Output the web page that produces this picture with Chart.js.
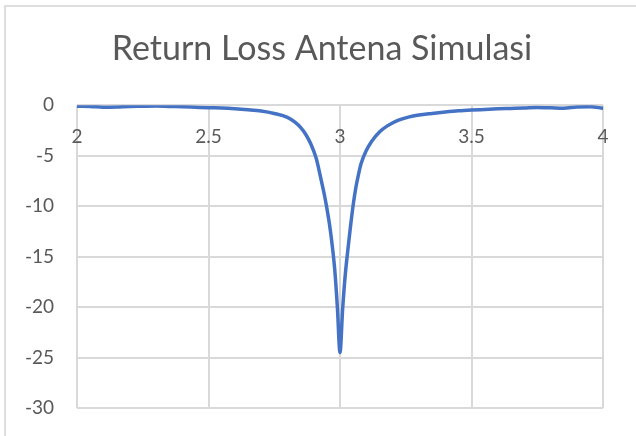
<!DOCTYPE html>
<html>
<head>
<meta charset="utf-8">
<script src="https://cdn.jsdelivr.net/npm/chart.js@4.4.1/dist/chart.umd.min.js"></script>
<style>
  html, body { margin: 0; padding: 0; background: #ffffff; }
  #wrap { position: relative; width: 636px; height: 436px; overflow: hidden; background: #fff; }
  #frame { position: absolute; left: 4px; top: 5px; width: 700px; height: 500px; border: 2px solid #dedede; box-sizing: border-box; }
  canvas { position: absolute; left: 0; top: 0; }
</style>
</head>
<body>
<div id="wrap">
  <div id="frame"></div>
  <canvas id="c" width="636" height="436"></canvas>
</div>
<script>
const titleText = 'Return Loss Antena Simulasi';

const freq = [2.00,2.05,2.10,2.15,2.20,2.25,2.30,2.35,2.40,2.45,2.50,2.55,2.60,2.65,2.70,2.75,2.80,2.83,2.85,2.87,2.89,2.91,2.92,2.93,2.94,2.95,2.96,2.97,2.98,2.99,3.00,3.01,3.02,3.03,3.04,3.05,3.06,3.07,3.08,3.10,3.12,3.15,3.18,3.22,3.26,3.30,3.35,3.40,3.45,3.50,3.55,3.60,3.65,3.70,3.75,3.80,3.85,3.90,3.95,4.00];

const returnLoss = [-0.10,-0.12,-0.20,-0.18,-0.12,-0.10,-0.08,-0.12,-0.15,-0.20,-0.25,-0.28,-0.35,-0.45,-0.58,-0.82,-1.20,-1.70,-2.20,-2.90,-3.90,-5.30,-6.40,-7.60,-8.80,-10.20,-11.80,-13.80,-16.30,-20.00,-24.50,-20.20,-16.80,-14.30,-12.00,-9.90,-8.20,-6.90,-5.80,-4.50,-3.60,-2.65,-2.05,-1.50,-1.18,-0.98,-0.82,-0.68,-0.56,-0.48,-0.42,-0.36,-0.32,-0.28,-0.22,-0.25,-0.30,-0.18,-0.15,-0.30];

const xTicks = [2, 2.5, 3, 3.5, 4];
const xTickLabels = ['2', '2.5', '3', '3.5', '4'];
const yTicks = [0, -5, -10, -15, -20, -25, -30];
const yTickLabels = ['0', '-5', '-10', '-15', '-20', '-25', '-30'];

const points = freq.map((f, i) => ({ x: f, y: returnLoss[i] }));

const textColor = '#595959';
const gridColor = '#d9d9d9';
const fontFamily = 'Lato, "Open Sans", sans-serif';

new Chart(document.getElementById('c'), {
  type: 'line',
  data: {
    datasets: [{
      data: points,
      borderColor: '#4472C4',
      borderWidth: 3.5,
      pointRadius: 0,
      fill: false,
      cubicInterpolationMode: 'monotone',
      borderCapStyle: 'round',
      borderJoinStyle: 'round'
    }]
  },
  options: {
    responsive: false,
    devicePixelRatio: 1,
    animation: false,
    layout: { padding: { left: 8, right: 0, top: 0, bottom: 28 } },
    plugins: {
      legend: { display: false },
      tooltip: { enabled: false },
      title: {
        display: true,
        text: titleText,
        color: textColor,
        font: { family: fontFamily, size: 34, weight: 'normal' },
        padding: { top: 29, bottom: 35.4 }
      }
    },
    scales: {
      x: {
        type: 'linear',
        position: { y: 0 },
        min: 2,
        max: 4,
        afterBuildTicks: (s) => { s.ticks = xTicks.map(v => ({ value: v })); },
        afterFit: (s) => { s.height = 0; s.paddingLeft = 0; s.paddingRight = 0; s.paddingTop = 0; s.paddingBottom = 0; },
        ticks: {
          color: textColor,
          font: { family: fontFamily, size: 19 },
          padding: 20,
          maxRotation: 0,
          autoSkip: false,
          callback: (v) => { const i = xTicks.indexOf(v); return i >= 0 ? xTickLabels[i] : ''; }
        },
        grid: { color: gridColor, lineWidth: 2, drawTicks: false },
        border: { display: false }
      },
      y: {
        type: 'linear',
        position: 'left',
        min: -30,
        max: 0,
        afterBuildTicks: (s) => { s.ticks = yTicks.map(v => ({ value: v })); },
        afterFit: (s) => { s.width = 69; s.paddingTop = 0; s.paddingBottom = 0; },
        ticks: {
          color: textColor,
          font: { family: fontFamily, size: 19 },
          padding: 23,
          autoSkip: false,
          callback: (v) => { const i = yTicks.indexOf(v); return i >= 0 ? yTickLabels[i] : ''; }
        },
        grid: { color: gridColor, lineWidth: 2, drawTicks: false },
        border: { display: false }
      },
      yRight: {
        type: 'linear',
        position: 'right',
        display: true,
        ticks: { display: false },
        grid: { display: false },
        border: { display: false },
        afterFit: (s) => { s.width = 33; s.paddingTop = 0; s.paddingBottom = 0; }
      }
    }
  }
});
</script>
</body>
</html>
